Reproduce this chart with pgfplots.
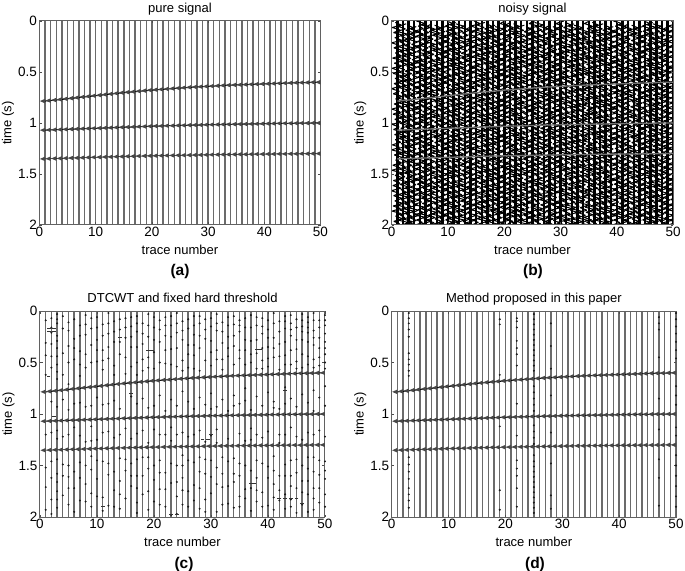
\documentclass[border=0pt]{standalone}
\usepackage{fontspec}
\setmainfont{Liberation Sans}
\usepackage{pgfplots}
\usepackage{pgfplotstable}
\pgfplotsset{compat=1.18}

\newcommand{\labfont}{\fontsize{13bp}{15bp}\selectfont}
\newcommand{\panfont}{\fontsize{15.5bp}{17bp}\selectfont\bfseries}

% left pointing lobe of a wiggle trace at a reflection
\pgfdeclareplotmark{barb}{%
  \pgfpathmoveto{\pgfqpoint{-5.2bp}{0bp}}%
  \pgfpathlineto{\pgfqpoint{0bp}{2.3bp}}%
  \pgfpathlineto{\pgfqpoint{0bp}{-2.3bp}}%
  \pgfpathclose\pgfusepathqfill}

% reflection times read per trace
\pgfplotstableread{
k t1 t2 t3
1 .785 1.070 1.352
2 .780 1.068 1.350
3 .775 1.066 1.348
4 .769 1.064 1.347
5 .763 1.062 1.345
6 .757 1.060 1.343
7 .751 1.058 1.342
8 .745 1.056 1.340
9 .739 1.054 1.338
10 .733 1.052 1.336
11 .727 1.050 1.335
12 .721 1.048 1.333
13 .715 1.046 1.332
14 .709 1.044 1.330
15 .703 1.042 1.329
16 .698 1.040 1.327
17 .693 1.038 1.326
18 .688 1.036 1.324
19 .683 1.034 1.323
20 .678 1.032 1.322
21 .674 1.030 1.321
22 .670 1.029 1.320
23 .666 1.027 1.319
24 .662 1.026 1.318
25 .658 1.024 1.317
26 .654 1.023 1.316
27 .650 1.021 1.315
28 .647 1.020 1.314
29 .644 1.019 1.313
30 .641 1.017 1.312
31 .638 1.016 1.311
32 .635 1.015 1.310
33 .632 1.014 1.309
34 .629 1.013 1.309
35 .627 1.012 1.308
36 .625 1.011 1.307
37 .623 1.010 1.307
38 .621 1.009 1.306
39 .619 1.008 1.305
40 .617 1.007 1.305
41 .615 1.006 1.304
42 .613 1.005 1.304
43 .611 1.004 1.303
44 .609 1.003 1.303
45 .607 1.003 1.302
46 .605 1.002 1.302
47 .604 1.001 1.301
48 .603 1.001 1.301
49 .601 1.000 1.300
50 .600 1.000 1.300
}\horizons

% horizontal swing of the noisy traces, estimated in size and spacing
\pgfplotstableread{
t c0 c1 c2 c3 c4 c5 c6
0.000 .10 -.30 .45 -.12 .28 -.50 .06
0.025 -.62 .55 -.70 .66 -.48 .72 -.58
0.050 .48 -.72 .35 -.40 .80 -.22 .66
0.075 -.25 .40 -.85 .74 -.60 .52 -.35
0.100 .82 -.55 .58 -.30 .35 -.78 .48
0.125 -.50 .78 -.20 .62 -.82 .40 -.72
0.150 .30 -.35 .72 -.76 .50 -.55 .85
0.175 -.78 .62 -.48 .25 -.38 .68 -.28
0.200 .55 -.80 .30 -.58 .72 -.32 .50
0.225 -.35 .28 -.66 .84 -.52 .60 -.82
0.250 .70 -.50 .80 -.42 .30 -.70 .38
0.275 -.60 .74 -.38 .55 -.78 .25 -.52
0.300 .42 -.28 .62 -.80 .64 -.48 .74
0.325 -.82 .50 -.75 .34 -.30 .82 -.40
0.350 .28 -.68 .44 -.62 .76 -.58 .60
0.375 -.45 .85 -.30 .70 -.55 .34 -.75
0.400 .76 -.42 .68 -.28 .42 -.80 .32
0.425 -.30 .58 -.82 .78 -.66 .50 -.60
0.450 .60 -.76 .25 -.50 .84 -.35 .70
0.475 -.72 .36 -.56 .46 -.26 .74 -.44
0.500 .38 -.60 .78 -.72 .58 -.62 .28
0.525 -.55 .70 -.42 .30 -.74 .44 -.80
0.550 .84 -.32 .60 -.64 .36 -.28 .56
0.575 -.26 .80 -.74 .52 -.48 .78 -.34
0.600 .50 -.48 .34 -.82 .68 -.52 .72
0.625 -.68 .44 -.60 .40 -.34 .60 -.50
0.650 .34 -.84 .76 -.26 .80 -.76 .42
0.675 -.80 .30 -.28 .72 -.62 .30 -.68
0.700 .64 -.58 .52 -.54 .26 -.46 .80
0.725 -.40 .66 -.80 .36 -.70 .84 -.30
0.750 .74 -.26 .40 -.78 .54 -.36 .62
0.775 -.52 .76 -.64 .60 -.44 .56 -.78
0.800 .26 -.46 .84 -.34 .74 -.66 .36
0.825 -.74 .60 -.36 .80 -.28 .42 -.54
0.850 .58 -.78 .50 -.46 .62 -.84 .76
0.875 -.32 .34 -.72 .28 -.80 .32 -.42
0.900 .78 -.62 .26 -.68 .46 -.54 .58
0.925 -.58 .82 -.54 .56 -.36 .76 -.70
0.950 .44 -.36 .70 -.84 .82 -.30 .30
0.975 -.84 .52 -.44 .42 -.56 .62 -.84
1.000 .36 -.74 .82 -.32 .34 -.72 .68
1.025 -.48 .26 -.32 .76 -.76 .28 -.46
1.050 .68 -.54 .56 -.60 .60 -.42 .84
1.075 -.28 .72 -.78 .26 -.42 .80 -.26
1.100 .80 -.40 .42 -.74 .78 -.60 .52
1.125 -.64 .84 -.58 .64 -.32 .46 -.76
1.150 .32 -.30 .74 -.38 .56 -.82 .40
1.175 -.76 .48 -.26 .82 -.84 .36 -.56
1.200 .56 -.70 .66 -.52 .28 -.50 .78
1.225 -.42 .32 -.84 .32 -.64 .70 -.32
1.250 .72 -.82 .38 -.70 .70 -.26 .44
1.275 -.34 .64 -.62 .58 -.46 .58 -.64
1.300 .46 -.44 .86 -.44 .38 -.74 .82
1.325 -.70 .78 -.34 .74 -.72 .40 -.38
1.350 .62 -.24 .54 -.28 .84 -.44 .26
1.375 -.56 .56 -.76 .50 -.30 .82 -.74
1.400 .28 -.66 .32 -.80 .52 -.64 .64
1.425 -.80 .42 -.52 .38 -.68 .26 -.48
1.450 .54 -.78 .80 -.56 .44 -.58 .74
1.475 -.36 .68 -.40 .68 -.82 .66 -.30
1.500 .84 -.34 .28 -.36 .66 -.34 .46
1.525 -.46 .86 -.70 .84 -.40 .54 -.86
1.550 .40 -.56 .64 -.66 .24 -.80 .34
1.575 -.66 .38 -.46 .24 -.58 .48 -.58
1.600 .70 -.64 .84 -.48 .86 -.38 .70
1.625 -.24 .54 -.30 .78 -.50 .72 -.36
1.650 .52 -.86 .48 -.86 .40 -.56 .86
1.675 -.60 .24 -.68 .44 -.74 .34 -.66
1.700 .34 -.52 .76 -.24 .72 -.68 .24
1.725 -.86 .70 -.24 .66 -.34 .86 -.52
1.750 .66 -.38 .58 -.58 .48 -.40 .76
1.775 -.44 .80 -.86 .34 -.86 .24 -.44
1.800 .24 -.60 .36 -.72 .58 -.86 .54
1.825 -.54 .46 -.50 .86 -.24 .64 -.62
1.850 .86 -.74 .70 -.40 .76 -.24 .32
1.875 -.38 .60 -.36 .54 -.60 .44 -.80
1.900 .60 -.24 .24 -.76 .32 -.76 .66
1.925 -.72 .76 -.66 .48 -.70 .76 -.24
1.950 .42 -.50 .86 -.34 .64 -.46 .84
1.975 -.30 .32 -.44 .72 -.44 .38 -.56
2.000 .56 -.68 .60 -.54 .54 -.62 .42
}\noisy

\pgfplotsset{
  sig/.style={
    scale only axis, width=#1,
    xmin=0, xmax=50, ymin=0, ymax=2, y dir=reverse,
    xtick={0,10,...,50}, ytick={0,0.5,1,1.5,2},
    /pgf/number format/assume math mode=true,
    tick label style={font=\fontsize{13.5bp}{15bp}\selectfont},
    tick align=inside, major tick length=2.5bp,
    tick style={black!70,line width=.6bp},
    axis line style={black!62,line width=1bp},
    axis on top,
    yticklabel style={xshift=1bp},
    xticklabel style={yshift=1bp},
    title style={font=\labfont,inner sep=0pt,text depth=3bp,yshift=-1bp},
    xlabel={trace number}, xlabel style={font=\labfont,inner sep=0pt,yshift=-4bp},
    ylabel={time (s)},
    every axis y label/.style={at={(rel axis cs:0,0.5)},xshift=-31.5bp,rotate=90,anchor=center,font=\labfont},
  },
  trace/.style={black!58,line width=1.4bp,quiver={u=0,v=2}},
  horizon/.style={black,line width=1bp},
  barbs/.style={only marks,mark=barb,black!72},
  speck/.style={only marks,mark=*,mark size=.78bp,black!90,draw=none},
  dash/.style={only marks,mark=-,mark size=1.9bp,black!80,mark options={line width=.9bp}},
}
\newcommand{\drawtraces}{%
  \addplot[trace] table[x=k,y expr=0]{\horizons};
  \addplot[barbs] table[x=k,y=t1]{\horizons};
  \addplot[barbs] table[x=k,y=t2]{\horizons};
  \addplot[barbs] table[x=k,y=t3]{\horizons};
  \addplot[horizon] table[x=k,y=t1]{\horizons};
  \addplot[horizon] table[x=k,y=t2]{\horizons};
  \addplot[horizon,line width=.5bp] table[x=k,y=t3]{\horizons};
}

\begin{document}
\begin{tikzpicture}
\useasboundingbox (0,0) rectangle (685bp,571bp);

% (a)
\begin{axis}[sig=281bp,height=204bp,at={(39.5bp,346bp)},anchor=south west,title={pure signal}]
\drawtraces
\end{axis}
\node[font=\panfont] at (180bp,300bp) {(a)};

% (b)
\begin{axis}[sig=281.5bp,height=204bp,at={(391.7bp,346bp)},anchor=south west,title={noisy signal}]
\addplot[black,line width=2.4bp,quiver={u=0,v=2}] table[x=k,y expr=0]{\horizons};
\foreach \k in {1,...,50}{
  \pgfmathtruncatemacro\c{mod(\k,7)}
  \pgfmathsetmacro\s{0.0137*mod(\k,5)}
  \edef\tmp{\noexpand\addplot[black,line width=1bp,line join=bevel]
    table[x expr={\k+1.25*\noexpand\thisrow{c\c}},y expr={\noexpand\thisrow{t}+\s}]{\noexpand\noisy};}
  \tmp
}
\addplot[black!55,line width=1.3bp] table[x=k,y=t1]{\horizons};
\addplot[black!55,line width=1.3bp] table[x=k,y=t2]{\horizons};
\addplot[black!55,line width=1.3bp] table[x=k,y=t3]{\horizons};
\end{axis}
\node[font=\panfont] at (533bp,300bp) {(b)};

% (c)
\begin{axis}[sig=285bp,height=206bp,at={(40bp,54bp)},anchor=south west,title={DTCWT and fixed hard threshold}]
\drawtraces
\addplot[speck] coordinates {
(1,.09)(1,.31)(1,.62)(1,1.52)(1,1.71)(1,1.93)
(2,.07)(2,.16)(2,.21)(2,.44)(2,.88)(2,1.18)(2,1.62)(2,1.83)(2,1.97)
(3,.03)(3,.12)(3,.24)(3,.29)(3,.36)(3,.52)(3,.59)(3,.66)(3,.93)(3,1.16)(3,1.44)(3,1.58)(3,1.66)(3,1.75)(3,1.91)
(4,.05)(4,.41)(4,.86)(4,1.22)(4,1.49)(4,1.79)
(5,.11)(5,.19)(5,.34)(5,.71)(5,.96)(5,1.61)(5,1.72)(5,1.88)
(6,.08)(6,.27)(6,.47)(6,1.13)(6,1.56)(6,1.95)
(7,.14)(7,.39)(7,.63)(7,.89)(7,1.21)(7,1.47)(7,1.84)
(8,.04)(8,.23)(8,.55)(8,1.27)(8,1.68)
(9,.17)(9,.33)(9,.92)(9,1.12)(9,1.41)(9,1.54)(9,1.77)(9,1.9)
(10,.06)(10,.28)(10,.49)(10,.84)(10,1.25)(10,1.63)
(11,.13)(11,.38)(11,.57)(11,.91)(11,1.46)(11,1.81)(11,1.94)
(12,.02)(12,.22)(12,.46)(12,1.17)(12,1.59)(12,1.89)
(13,.1)(13,.3)(13,.53)(13,.87)(13,1.23)(13,1.74)
(14,.18)(14,.42)(14,.95)(14,1.43)(14,1.65)(14,1.92)
(15,.07)(15,.26)(15,.61)(15,1.14)(15,1.55)(15,1.82)
(16,.15)(16,.35)(16,.83)(16,1.24)(16,1.48)(16,1.7)
(17,.05)(17,.2)(17,.5)(17,.9)(17,1.19)(17,1.6)(17,1.86)(17,1.96)
(18,.12)(18,.32)(18,.58)(18,.85)(18,1.42)(18,1.78)
(19,.03)(19,.25)(19,.45)(19,.94)(19,1.28)(19,1.53)(19,1.93)
(20,.16)(20,.4)(20,.56)(20,1.15)(20,1.64)(20,1.85)
(21,.09)(21,.3)(21,.82)(21,1.2)(21,1.45)(21,1.73)
(22,.06)(22,.24)(22,.51)(22,.97)(22,1.57)(22,1.9)
(23,.14)(23,.37)(23,.86)(23,1.13)(23,1.26)(23,1.67)(23,1.98)
(24,.02)(24,.21)(24,.54)(24,.92)(24,1.5)(24,1.8)(24,1.97)
(25,.1)(25,.28)(25,.48)(25,.78)(25,1.18)(25,1.4)(25,1.62)(25,1.88)
(26,.17)(26,.33)(26,.55)(26,.88)(26,1.22)(26,1.75)
(27,.05)(27,.23)(27,.43)(27,.95)(27,1.47)(27,1.69)
(28,.12)(28,.36)(28,.58)(28,.84)(28,1.16)(28,1.56)(28,1.92)
(29,.08)(29,.27)(29,.91)(29,1.27)(29,1.44)(29,1.83)
(30,.15)(30,.4)(30,.53)(30,.8)(30,1.21)(30,1.61)(30,1.77)
(31,.03)(31,.19)(31,.47)(31,.93)(31,1.15)(31,1.52)(31,1.95)
(32,.11)(32,.31)(32,.57)(32,.86)(32,1.42)(32,1.71)
(33,.06)(33,.25)(33,.44)(33,.97)(33,1.24)(33,1.87)
(34,.13)(34,.34)(34,.52)(34,.82)(34,1.58)(34,1.66)(34,1.91)
(35,.09)(35,.2)(35,.46)(35,.9)(35,1.19)(35,1.48)(35,1.8)
(36,.16)(36,.38)(36,.75)(36,.87)(36,1.26)(36,1.73)
(37,.04)(37,.29)(37,.5)(37,.96)(37,1.14)(37,1.55)(37,1.94)
(38,.14)(38,.41)(38,.56)(38,.83)(38,1.45)(38,1.62)(38,1.85)
(39,.07)(39,.22)(39,.48)(39,.92)(39,1.23)(39,1.76)
(40,.18)(40,.35)(40,.54)(40,.79)(40,1.17)(40,1.51)(40,1.89)
(41,.02)(41,.26)(41,.45)(41,.88)(41,1.41)(41,1.68)(41,1.81)
(42,.1)(42,.32)(42,.57)(42,.95)(42,1.28)(42,1.6)(42,1.84)
(43,.05)(43,.17)(43,.43)(43,.74)(43,.9)(43,1.2)(43,1.49)(43,1.92)
(44,.12)(44,.24)(44,.52)(44,.85)(44,1.13)(44,1.7)(44,1.83)
(45,.08)(45,.37)(45,.49)(45,.93)(45,1.44)(45,1.57)(45,1.96)
(46,.03)(46,.15)(46,.28)(46,.55)(46,.81)(46,1.25)(46,1.65)(46,1.88)
(47,.06)(47,.11)(47,.21)(47,.44)(47,.89)(47,1.18)(47,1.53)(47,1.78)
(48,.02)(48,.19)(48,.33)(48,.47)(48,.77)(48,.97)(48,1.42)(48,1.72)(48,1.93)
(49,.09)(49,.26)(49,.53)(49,.84)(49,1.16)(49,1.59)(49,1.86)
(50,.04)(50,.14)(50,.3)(50,.42)(50,.56)(50,.73)(50,.92)(50,1.22)(50,1.46)(50,1.63)(50,1.9)
(1,.43)(1,1.2)(2,.32)(2,.55)(2,1.46)(3,.08)(3,.44)(3,1.24)(3,1.83)(4,.17)(4,.62)(4,1.6)(5,.5)(5,1.2)(5,1.5)
(6,.36)(6,.9)(6,1.72)(7,.24)(7,.52)(7,1.62)(8,.13)(8,.42)(8,.93)(8,1.5)(8,1.85)(9,.07)(9,.5)(9,1.26)
(10,.16)(10,.38)(10,1.45)(10,1.8)(11,.24)(11,.48)(11,1.18)(12,.12)(12,.35)(12,.9)(12,1.48)(13,.2)(13,.62)(13,1.56)(13,1.9)
(14,.08)(14,.3)(14,1.2)(14,1.78)(15,.16)(15,.45)(15,1.44)(16,.06)(16,.25)(16,.54)(16,1.6)(17,.12)(17,.35)(17,.62)(17,1.44)(17,1.72)
(18,.22)(18,.47)(18,1.16)(18,1.6)(19,.14)(19,.55)(19,1.42)(19,1.75)(20,.06)(20,.28)(20,.92)(20,1.5)(21,.18)(21,.5)(21,1.57)(21,1.88)
(22,.14)(22,.38)(22,1.2)(22,1.73)(23,.05)(23,.25)(23,.52)(23,1.48)(24,.12)(24,.36)(24,1.2)(24,1.66)(25,.19)(25,.58)(25,1.5)(25,1.74)
(26,.08)(26,.42)(26,1.45)(26,1.9)(27,.14)(27,.33)(27,.56)(27,1.2)(27,1.84)(28,.05)(28,.24)(28,1.42)(28,1.72)(29,.18)(29,.48)(29,1.58)(29,1.95)
(30,.07)(30,.29)(30,.95)(30,1.45)(31,.12)(31,.38)(31,1.28)(31,1.68)(32,.2)(32,.47)(32,1.58)(32,1.88)(33,.14)(33,.36)(33,1.46)(33,1.7)
(34,.05)(34,.24)(34,.92)(34,1.43)(35,.14)(35,.38)(35,1.6)(35,1.9)(36,.07)(36,.28)(36,.52)(36,1.5)(36,1.82)(37,.16)(37,.42)(37,1.25)(37,1.72)
(38,.06)(38,.28)(38,1.2)(38,1.74)(39,.15)(39,.36)(39,.56)(39,1.48)(39,1.9)(40,.09)(40,.26)(40,.46)(40,1.62)(41,.12)(41,.36)(41,.94)(41,1.55)(41,1.93)
(42,.2)(42,.44)(42,1.2)(42,1.74)(43,.1)(43,.3)(43,.52)(43,1.6)(43,1.78)(44,.04)(44,.18)(44,.38)(44,1.45)(44,1.6)(44,1.9)
(45,.16)(45,.28)(45,.56)(45,1.22)(45,1.72)(46,.09)(46,.2)(46,.42)(46,1.5)(46,1.76)(47,.16)(47,.3)(47,.52)(47,1.42)(47,1.65)(47,1.95)
(48,.09)(48,.26)(48,.55)(48,1.2)(48,1.56)(48,1.82)(49,.16)(49,.36)(49,.45)(49,1.45)(49,1.72)(50,.09)(50,.22)(50,.36)(50,.5)(50,1.55)(50,1.78)
};
\addplot[dash] coordinates {
(1.6,.17)(2.4,.17)(1.6,.20)(2.4,.20)(1.5,.64)(2.5,1.02)(19,.38)(19.6,.38)(38,.37)(38.6,.37)
(30,1.20)(28.5,1.25)(29.5,1.25)(16,.80)(37,1.67)(37.6,1.67)(46,1.87)(42,1.82)(43,1.82)(44,1.82)(45,1.82)
(23,1.98)(24,1.98)(11,1.90)(43,.77)(14,.26)
};
\end{axis}
\node[font=\panfont] at (184bp,6.5bp) {(c)};

% (d)
\begin{axis}[sig=284.3bp,height=206bp,at={(391.7bp,54bp)},anchor=south west,title={Method proposed in this paper}]
\drawtraces
\addplot[speck] coordinates {
(3,.02)(3,.07)(3,.12)(3,.18)(3,.25)(3,.41)(3,.47)(3,.52)(3,.58)(3,.63)(3,1.42)(3,1.49)(3,1.56)(3,1.63)(3,1.72)(3,1.78)(3,1.84)(3,1.91)
(19,.08)(19,.13)(19,.62)(19,1.12)(19,1.74)(19,1.93)
(22,.07)(22,.1)(22,.16)(22,.29)(22,.36)(22,.42)(22,.53)(22,.9)(22,1.21)(22,1.45)(22,1.53)(22,1.6)(22,1.72)(22,1.9)
(25,.03)(25,.08)(25,.13)(25,.18)(25,.23)(25,.28)(25,.33)(25,.38)(25,.43)(25,.48)(25,.53)(25,.58)(25,.73)(25,.79)(25,.85)(25,.91)(25,.97)(25,1.11)(25,1.17)(25,1.23)(25,1.29)(25,1.4)(25,1.46)(25,1.51)(25,1.56)(25,1.61)(25,1.66)(25,1.71)(25,1.76)(25,1.81)(25,1.86)(25,1.91)(25,1.96)
(28,.12)(28,.34)(28,.56)(28,.82)(28,1.18)(28,1.48)(28,1.79)(28,1.92)
(47,.06)(47,.12)(47,.18)(47,.45)(47,.85)(47,1.15)(47,1.44)(47,1.62)(47,1.89)
(50,.02)(50,.08)(50,.15)(50,.22)(50,.3)(50,.38)(50,.46)(50,.73)(50,.82)(50,.91)(50,1.13)(50,1.21)(50,1.4)(50,1.5)(50,1.6)(50,1.7)(50,1.8)(50,1.9)
};
\end{axis}
\node[font=\panfont] at (535bp,6.5bp) {(d)};
\end{tikzpicture}
\end{document}
